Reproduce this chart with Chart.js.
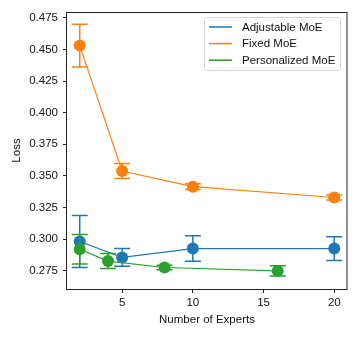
<!DOCTYPE html>
<html>
<head>
<meta charset="utf-8">
<script src="https://cdn.jsdelivr.net/npm/chart.js@4.4.1/dist/chart.umd.min.js"></script>
<style>
  html, body { margin: 0; padding: 0; background: #fff; }
  canvas { display: block; }
</style>
</head>
<body>
<canvas id="chart" width="359" height="339"></canvas>
<script>
const seriesNames = ['Adjustable MoE', 'Fixed MoE', 'Personalized MoE'];
const seriesColors = ['#1f77b4', '#ff7f0e', '#2ca02c'];

const adjustableX = [2, 5, 10, 20];
const adjustableY = [0.2981, 0.2855, 0.2925, 0.2925];
const adjustableErr = [0.0205, 0.0070, 0.0101, 0.0094];

const fixedX = [2, 5, 10, 20];
const fixedY = [0.4531, 0.3539, 0.3415, 0.3329];
const fixedErr = [0.0169, 0.0059, 0.0022, 0.0020];

const personalX = [2, 4, 8, 16];
const personalY = [0.2920, 0.2826, 0.2775, 0.2748];
const personalErr = [0.0117, 0.0059, 0.0018, 0.0040];

const xTicks = [5, 10, 15, 20];
const yTicks = [0.275, 0.300, 0.325, 0.350, 0.375, 0.400, 0.425, 0.450, 0.475];

const series = [
  { x: adjustableX, y: adjustableY, err: adjustableErr },
  { x: fixedX, y: fixedY, err: fixedErr },
  { x: personalX, y: personalY, err: personalErr }
];

const FONT = 'Liberation Sans';
const FONT_SIZE = 11.5;

// error bars go under each dataset's markers
const errorBarPlugin = {
  id: 'errorBars',
  beforeDatasetDraw(chart, args) {
    const {ctx, scales} = chart;
    const s = series[args.index];
    ctx.save();
    ctx.strokeStyle = seriesColors[args.index];
    ctx.lineWidth = 1.5;
    s.x.forEach((xv, k) => {
      const px = scales.x.getPixelForValue(xv);
      const top = scales.y.getPixelForValue(s.y[k] + s.err[k]);
      const bot = scales.y.getPixelForValue(s.y[k] - s.err[k]);
      ctx.beginPath();
      ctx.moveTo(px, top); ctx.lineTo(px, bot);
      ctx.moveTo(px - 8, top); ctx.lineTo(px + 8, top);
      ctx.moveTo(px - 8, bot); ctx.lineTo(px + 8, bot);
      ctx.stroke();
    });
    ctx.restore();
  }
};

const frameLegendPlugin = {
  id: 'frameLegend',
  afterDraw(chart) {
    const {ctx, chartArea: a} = chart;
    ctx.save();
    ctx.strokeStyle = '#222';
    ctx.lineWidth = 1;
    ctx.strokeRect(Math.round(a.left) - 0.5, Math.round(a.top) + 0.5,
      Math.round(a.right - a.left) + 0.5, Math.round(a.bottom - a.top));

    // legend box, top right inside the axes
    const bx = 204.5, by = 17.5, bw = 136, bh = 53;
    ctx.beginPath();
    ctx.roundRect(bx, by, bw, bh, 2);
    ctx.fillStyle = 'rgba(255,255,255,0.8)';
    ctx.fill();
    ctx.strokeStyle = '#d6d6d6';
    ctx.stroke();
    ctx.font = `${FONT_SIZE}px "${FONT}"`;
    ctx.textBaseline = 'middle';
    seriesNames.forEach((name, i) => {
      const y = 27 + i * 16.6;
      ctx.strokeStyle = seriesColors[i];
      ctx.lineWidth = 1.5;
      ctx.beginPath();
      ctx.moveTo(209, y);
      ctx.lineTo(232, y);
      ctx.stroke();
      ctx.fillStyle = '#111';
      ctx.fillText(name, 242, y + 0.5);
    });
    ctx.restore();
  }
};

const datasets = series.map((s, i) => ({
  label: seriesNames[i],
  data: s.x.map((xv, k) => ({ x: xv, y: s.y[k] })),
  borderColor: seriesColors[i],
  backgroundColor: seriesColors[i],
  borderWidth: 1.2,
  pointRadius: 6,
  pointHoverRadius: 6,
  pointBorderWidth: 0,
  showLine: true,
  tension: 0,
  order: 3 - i
}));

const tickFont = { family: FONT, size: FONT_SIZE };

new Chart(document.getElementById('chart'), {
  type: 'line',
  data: { datasets },
  options: {
    responsive: false,
    animation: false,
    events: [],
    layout: { padding: { left: 0, right: 12, top: 12, bottom: 0 } },
    plugins: { legend: { display: false }, tooltip: { enabled: false } },
    scales: {
      x: {
        type: 'linear',
        min: 1.1,
        max: 20.9,
        afterBuildTicks: (scale) => { scale.ticks = xTicks.map(v => ({ value: v })); },
        afterFit: (scale) => { scale.height = 50; },
        grid: { drawOnChartArea: false, tickLength: 4, tickColor: '#222', tickWidth: 1 },
        border: { display: false },
        ticks: { font: tickFont, color: '#111', padding: 3, maxRotation: 0, callback: v => String(v) },
        title: { display: true, text: 'Number of Experts', font: tickFont, color: '#111', padding: { top: 0, bottom: 12.6 } }
      },
      y: {
        min: 0.2605,
        max: 0.4797,
        afterBuildTicks: (scale) => { scale.ticks = yTicks.map(v => ({ value: v })); },
        afterFit: (scale) => { scale.width = 67; },
        grid: { drawOnChartArea: false, tickLength: 4, tickColor: '#222', tickWidth: 1 },
        border: { display: false },
        ticks: { font: tickFont, color: '#111', padding: 5, callback: v => Number(v).toFixed(3) },
        title: { display: true, text: 'Loss', font: tickFont, color: '#111', padding: { top: 10, bottom: 0 } }
      }
    }
  },
  plugins: [errorBarPlugin, frameLegendPlugin]
});
</script>
</body>
</html>
